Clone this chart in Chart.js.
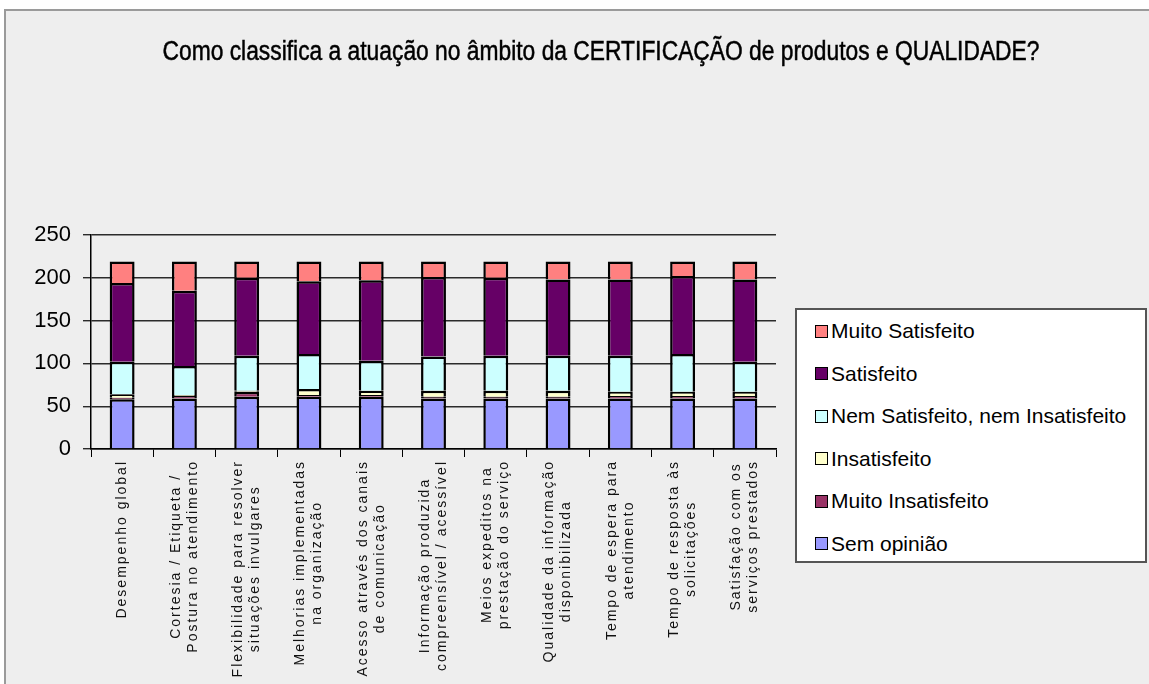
<!DOCTYPE html>
<html>
<head>
<meta charset="utf-8">
<script src="https://cdn.jsdelivr.net/npm/chart.js@4.4.0/dist/chart.umd.min.js"></script>
<style>
  html, body { margin: 0; padding: 0; background: #fff; }
  .frame {
    position: absolute; left: 4px; top: 9px; right: 0; bottom: 0;
    background: #eeeeee;
    border-top: 2px solid #9a9a9a;
    border-left: 2px solid #9a9a9a;
  }
  #wrap { position: absolute; left: 0; top: 0; width: 1149px; height: 684px; }
  #legend {
    position: absolute; left: 795px; top: 308px; width: 352px; height: 255px;
    box-sizing: border-box; background: #fff; border: 2px solid #555;
    font-family: "Liberation Sans", Arial, sans-serif; font-size: 21px; color: #000;
  }
  #legend .item { height: 42.5px; display: flex; align-items: center; padding-left: 18px; }
  #legend .sw { width: 11px; height: 11px; border: 1px solid #000; margin-right: 3px; }
</style>
</head>
<body>
<div class="frame"></div>
<div id="wrap">
  <canvas id="chart" width="1149" height="684"></canvas>
</div>
<div id="legend"></div>
<script>
const chartTitle = 'Como classifica a atuação no âmbito da CERTIFICAÇÃO de produtos e QUALIDADE?';

const categories = [
    ['Desempenho global'],
    ['Cortesia / Etiqueta /', 'Postura no atendimento'],
    ['Flexibilidade para resolver', 'situações invulgares'],
    ['Melhorias implementadas', 'na organização'],
    ['Acesso através dos canais', 'de comunicação'],
    ['Informação produzida', 'compreensível / acessível'],
    ['Meios expeditos na', 'prestação do serviço'],
    ['Qualidade da informação', 'disponibilizada'],
    ['Tempo de espera para', 'atendimento'],
    ['Tempo de resposta às', 'solicitações'],
    ['Satisfação com os', 'serviços prestados']
];

// stacked from the bottom up
const semOpiniao        = [58, 59, 61, 61, 61, 59, 59, 59, 59, 59, 59];
const muitoInsatisfeito = [2, 3, 6, 2, 2, 2, 2, 2, 3, 3, 3];
const insatisfeito      = [4, 1, 1, 7, 5, 7, 7, 7, 5, 5, 5];
const nemNem            = [38, 34, 41, 41, 35, 40, 41, 41, 42, 44, 35];
const satisfeito        = [92, 88, 91, 85, 94, 93, 91, 89, 89, 91, 96];
const muitoSatisfeito   = [25, 34, 19, 23, 22, 18, 19, 21, 21, 17, 21];

const yTicks = [0, 50, 100, 150, 200, 250];

const series = [
    { label: 'Sem opinião', data: semOpiniao, color: '#9999ff' },
    { label: 'Muito Insatisfeito', data: muitoInsatisfeito, color: '#993366' },
    { label: 'Insatisfeito', data: insatisfeito, color: '#ffffcc' },
    { label: 'Nem Satisfeito, nem Insatisfeito', data: nemNem, color: '#ccffff' },
    { label: 'Satisfeito', data: satisfeito, color: '#660066' },
    { label: 'Muito Satisfeito', data: muitoSatisfeito, color: '#ff8080' }
];

// title, squeezed to the width of the narrow original lettering
const titlePlugin = {
    id: 'narrowTitle',
    afterDraw(chart) {
        const ctx = chart.ctx;
        ctx.save();
        ctx.font = '27px "Liberation Sans Narrow", "Liberation Sans", Arial, sans-serif';
        ctx.fillStyle = '#000';
        ctx.strokeStyle = '#000';
        ctx.lineWidth = 0.5;
        ctx.textAlign = 'center';
        ctx.textBaseline = 'alphabetic';
        const w = ctx.measureText(chartTitle).width;
        ctx.translate(601, 60);
        ctx.scale(877 / w, 1);
        ctx.fillText(chartTitle, 0, 0);
        ctx.strokeText(chartTitle, 0, 0);
        ctx.restore();
    }
};

// vertical category labels, lines centred on each other
const xLabelPlugin = {
    id: 'xLabels',
    afterDraw(chart) {
        const ctx = chart.ctx;
        const xs = chart.scales.x;
        const lineH = 17;
        ctx.save();
        ctx.font = '14px "Liberation Sans", Arial, sans-serif';
        if ('letterSpacing' in ctx) ctx.letterSpacing = '2px';
        ctx.fillStyle = '#111';
        ctx.textAlign = 'center';
        ctx.textBaseline = 'middle';
        categories.forEach((lines, i) => {
            const x = xs.getPixelForValue(i);
            const longest = Math.max(...lines.map(l => ctx.measureText(l).width));
            const cy = chart.chartArea.bottom + 11 + longest / 2;
            ctx.save();
            ctx.translate(x, cy);
            ctx.rotate(-Math.PI / 2);
            lines.forEach((l, j) => {
                ctx.fillText(l, 0, (j - (lines.length - 1) / 2) * lineH);
            });
            ctx.restore();
        });
        ctx.restore();
    }
};

const ctx = document.getElementById('chart').getContext('2d');
const chart = new Chart(ctx, {
    type: 'bar',
    data: {
        labels: categories.map(c => c.join(' ')),
        datasets: series.map(s => ({
            label: s.label,
            data: s.data,
            backgroundColor: s.color,
            borderColor: '#000',
            borderWidth: 2.5,
            borderSkipped: 'start',
            categoryPercentage: 0.8,
            barPercentage: 0.5
        }))
    },
    options: {
        responsive: false,
        animation: false,
        devicePixelRatio: 1,
        layout: { padding: { top: 235, left: 0, right: 373, bottom: 0 } },
        plugins: {
            legend: { display: false },
            title: { display: false },
            tooltip: { enabled: false }
        },
        scales: {
            x: {
                stacked: true,
                afterFit: (scale) => { scale.height = 235; },
                grid: {
                    offset: true,
                    drawOnChartArea: false,
                    drawTicks: true,
                    tickLength: 8,
                    color: '#000'
                },
                border: { color: '#000', width: 1.5 },
                ticks: { display: false }
            },
            y: {
                stacked: true,
                min: 0,
                max: 250,
                afterFit: (scale) => { scale.width = 91; },
                afterBuildTicks: (scale) => { scale.ticks = yTicks.map(v => ({ value: v })); },
                grid: { color: '#2a2a2a', lineWidth: 1.4, tickLength: 8 },
                border: { color: '#000', width: 1.5 },
                ticks: {
                    padding: 12,
                    color: '#000',
                    font: { family: '"Liberation Sans", Arial, sans-serif', size: 22 }
                }
            }
        }
    },
    plugins: [titlePlugin, xLabelPlugin]
});

// legend box, top series first
const legend = document.getElementById('legend');
series.slice().reverse().forEach(s => {
    const item = document.createElement('div');
    item.className = 'item';
    item.innerHTML = '<span class="sw" style="background:' + s.color + '"></span><span>' + s.label + '</span>';
    legend.appendChild(item);
});
</script>
</body>
</html>
